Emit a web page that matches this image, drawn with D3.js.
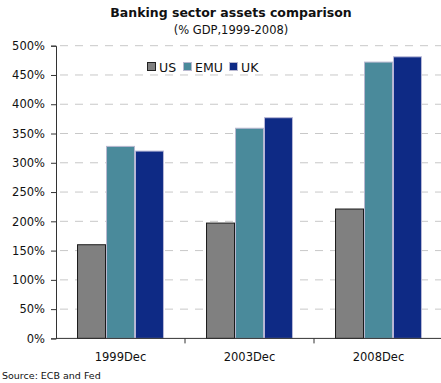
<!DOCTYPE html>
<html>
<head>
<meta charset="utf-8">
<script src="https://cdn.jsdelivr.net/npm/d3@7"></script>
<style>
body{margin:0;background:#fff;}
text{font-family:"DejaVu Sans",sans-serif;fill:#111;}
</style>
</head>
<body>
<svg id="chart" width="441" height="383"></svg>
<script>
const categories = ["1999Dec","2003Dec","2008Dec"];
const seriesNames = ["US","EMU","UK"];
const usValues = [160, 197, 221];
const emuValues = [328, 359, 472];
const ukValues = [320, 377, 481];
const yTicks = [0,50,100,150,200,250,300,350,400,450,500];
const seriesColors = ["#808080","#4a8a9b","#0e2a85"];
const seriesStrokes = ["#1a1a1a","#b8b8d0","#b8b8d8"];

(function(){
const svg = d3.select("#chart");
const mLeft = 56, mRight = 443, mTop = 45.7, mBottom = 338.4;

const x = d3.scaleBand().domain(categories).range([mLeft, mRight]).paddingInner(0.326).paddingOuter(0.163);
const xs = d3.scaleBand().domain(seriesNames).range([0, x.bandwidth()]);
const y = d3.scaleLinear().domain([0,500]).range([mBottom, mTop]);

// gridlines
svg.append("g").selectAll("line").data(yTicks.filter(d=>d>0)).join("line")
  .attr("x1", mLeft+4).attr("x2", 441)
  .attr("y1", d=>y(d)).attr("y2", d=>y(d))
  .attr("stroke","#c8c8c8").attr("stroke-width",1).attr("stroke-dasharray","8,7");

// title
svg.append("text").attr("x",231).attr("y",17).attr("text-anchor","middle")
  .style("font-weight","bold").style("font-size","12.5px").text("Banking sector assets comparison");
svg.append("text").attr("x",231).attr("y",34).attr("text-anchor","middle")
  .style("font-size","11.5px").text("(% GDP,1999-2008)");

// bars
const data = [usValues, emuValues, ukValues];
seriesNames.forEach((s, si) => {
  svg.append("g").selectAll("rect").data(categories).join("rect")
    .attr("x", (c)=>x(c)+xs(s)+0.5)
    .attr("width", xs.bandwidth()-1)
    .attr("y", (c,i)=>y(data[si][i]))
    .attr("height", (c,i)=>mBottom - y(data[si][i]))
    .attr("fill", seriesColors[si])
    .attr("stroke", seriesStrokes[si]).attr("stroke-width",1);
});

// y axis
const yAxis = d3.axisLeft(y).tickValues(yTicks).tickFormat(d=>d+"%").tickSize(5).tickPadding(6);
const gy = svg.append("g").attr("transform",`translate(${mLeft},0)`).call(yAxis);
gy.select(".domain").attr("stroke","#333");
gy.selectAll(".tick line").attr("stroke","#333");
gy.selectAll("text").style("font-size","11.5px").style("font-family","DejaVu Sans, sans-serif").attr("fill","#111");

// x axis
const gx = svg.append("g").attr("transform",`translate(0,${mBottom})`);
gx.append("line").attr("x1",mLeft).attr("x2",441).attr("y1",0).attr("y2",0).attr("stroke","#333");
gx.selectAll("line.tk").data(categories.slice(1)).join("line").attr("class","tk")
  .attr("x1",c=>x(c)-x.step()*x.paddingInner()/2).attr("x2",c=>x(c)-x.step()*x.paddingInner()/2)
  .attr("y1",0).attr("y2",5).attr("stroke","#333");
gx.selectAll("text").data(categories).join("text")
  .attr("x",c=>x(c)+x.bandwidth()/2).attr("y",23).attr("text-anchor","middle")
  .style("font-size","11.5px").text(c=>c);

// legend
const legendX = [147, 183, 229];
seriesNames.forEach((s, si) => {
  svg.append("rect").attr("x",legendX[si]+0.5).attr("y",62.5).attr("width",8).attr("height",8)
    .attr("fill",seriesColors[si]).attr("stroke",si===0?"#222":"#b8b8d0");
  svg.append("text").attr("x",legendX[si]+12).attr("y",71.5).style("font-size","12.5px").text(s);
});

// source
svg.append("text").attr("x",2).attr("y",379).style("font-size","9.5px").text("Source:  ECB and Fed");
})();
</script>
</body>
</html>
